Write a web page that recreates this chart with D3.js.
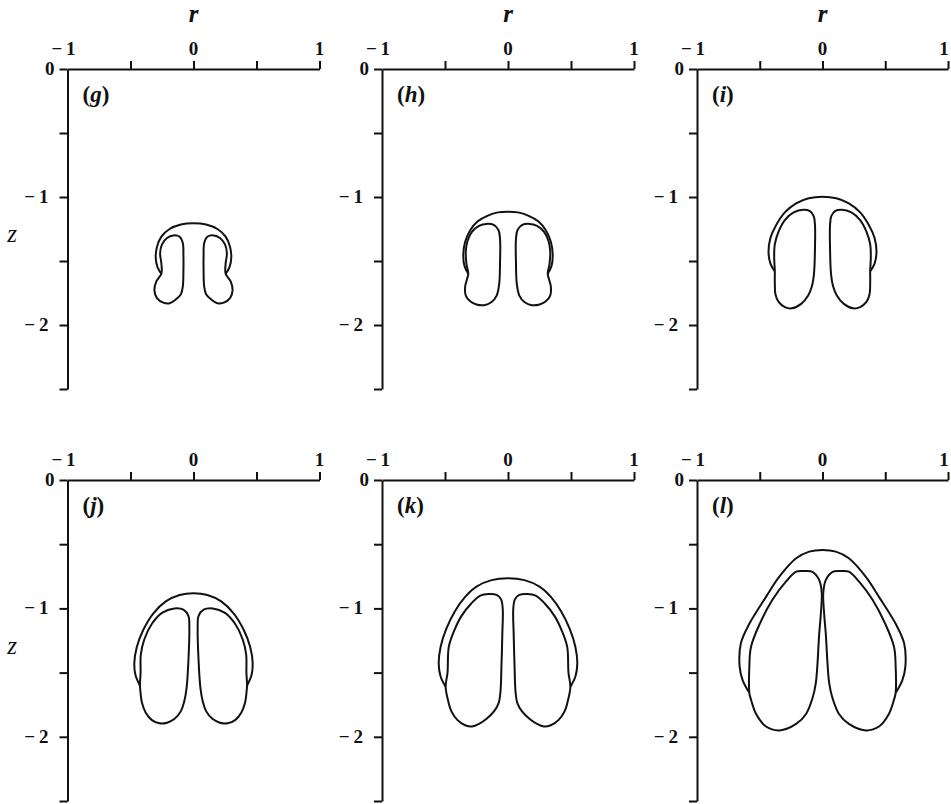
<!DOCTYPE html>
<html>
<head>
<meta charset="utf-8">
<script src="https://cdn.jsdelivr.net/npm/d3@7"></script>
<style>
  body { margin: 0; background: #fff; }
  text { font-family: "Liberation Serif", "DejaVu Serif", serif; fill: #111; }
</style>
</head>
<body>
<svg id="chart" width="951" height="804"></svg>
<script>
// Axis ticks and labels
const rTicks = [-0.5, 0, 0.5, 1];
const rTickLabels = [-1, 0, 1];
const zTicks = [0, -0.5, -1, -1.5, -2, -2.5];
const zTickLabels = [0, -1, -2];
const panelLabels = ["g", "h", "i", "j", "k", "l"];

// Left-hand vortex lobe of each panel, closed loop of (r, z); the right one is its mirror image
const lobeG = [[-0.16,-1.30],[-0.11,-1.31],[-0.085,-1.36],[-0.08,-1.46],[-0.08,-1.58],[-0.085,-1.70],[-0.10,-1.76],[-0.14,-1.80],[-0.19,-1.83],[-0.24,-1.825],[-0.29,-1.79],[-0.31,-1.73],[-0.295,-1.66],[-0.255,-1.60],[-0.255,-1.52],[-0.265,-1.44],[-0.25,-1.37],[-0.21,-1.32]];
const lobeH = [[-0.17,-1.21],[-0.11,-1.22],[-0.075,-1.26],[-0.063,-1.33],[-0.063,-1.50],[-0.07,-1.68],[-0.09,-1.77],[-0.13,-1.82],[-0.19,-1.845],[-0.25,-1.84],[-0.30,-1.815],[-0.335,-1.77],[-0.34,-1.70],[-0.325,-1.64],[-0.315,-1.60],[-0.33,-1.52],[-0.335,-1.42],[-0.32,-1.34],[-0.285,-1.27],[-0.23,-1.225]];
const lobeI = [[-0.153,-1.10],[-0.10,-1.11],[-0.07,-1.15],[-0.06,-1.22],[-0.06,-1.40],[-0.068,-1.60],[-0.085,-1.70],[-0.114,-1.77],[-0.17,-1.835],[-0.245,-1.87],[-0.30,-1.86],[-0.35,-1.82],[-0.375,-1.76],[-0.38,-1.67],[-0.38,-1.58],[-0.385,-1.47],[-0.38,-1.37],[-0.35,-1.27],[-0.30,-1.18],[-0.23,-1.12]];
const lobeJ = [[-0.153,-1.00],[-0.08,-1.01],[-0.04,-1.06],[-0.033,-1.15],[-0.04,-1.40],[-0.055,-1.62],[-0.075,-1.73],[-0.10,-1.80],[-0.15,-1.86],[-0.21,-1.89],[-0.27,-1.895],[-0.33,-1.87],[-0.38,-1.81],[-0.41,-1.73],[-0.42,-1.66],[-0.425,-1.60],[-0.42,-1.50],[-0.418,-1.36],[-0.39,-1.24],[-0.33,-1.12],[-0.25,-1.035]];
const lobeK = [[-0.153,-0.888],[-0.09,-0.895],[-0.055,-0.93],[-0.042,-1.00],[-0.045,-1.20],[-0.052,-1.45],[-0.06,-1.65],[-0.075,-1.74],[-0.11,-1.80],[-0.17,-1.86],[-0.23,-1.90],[-0.285,-1.92],[-0.34,-1.91],[-0.40,-1.87],[-0.45,-1.80],[-0.475,-1.72],[-0.495,-1.61],[-0.48,-1.50],[-0.47,-1.30],[-0.43,-1.18],[-0.37,-1.06],[-0.29,-0.96],[-0.22,-0.90]];
const lobeL = [[-0.146,-0.709],[-0.08,-0.715],[-0.026,-0.78],[-0.006,-0.88],[-0.013,-1.04],[-0.026,-1.195],[-0.053,-1.58],[-0.08,-1.70],[-0.13,-1.82],[-0.21,-1.90],[-0.344,-1.95],[-0.45,-1.92],[-0.53,-1.82],[-0.57,-1.71],[-0.583,-1.657],[-0.583,-1.455],[-0.57,-1.30],[-0.50,-1.12],[-0.40,-0.935],[-0.29,-0.79],[-0.21,-0.714]];

// Left half of the outer bubble boundary, from where it meets the lobe up to the axis r = 0
const capG = [[-0.255,-1.60],[-0.285,-1.55],[-0.30,-1.47],[-0.29,-1.39],[-0.255,-1.31],[-0.19,-1.25],[-0.10,-1.215],[0,-1.205]];
const capH = [[-0.315,-1.60],[-0.345,-1.54],[-0.355,-1.45],[-0.34,-1.35],[-0.30,-1.26],[-0.24,-1.19],[-0.16,-1.145],[-0.08,-1.12],[0,-1.115]];
const capI = [[-0.38,-1.58],[-0.415,-1.52],[-0.43,-1.43],[-0.415,-1.32],[-0.37,-1.22],[-0.30,-1.12],[-0.21,-1.05],[-0.11,-1.01],[0,-0.998]];
const capJ = [[-0.425,-1.60],[-0.46,-1.52],[-0.47,-1.43],[-0.45,-1.30],[-0.40,-1.17],[-0.32,-1.04],[-0.22,-0.945],[-0.11,-0.895],[0,-0.882]];
const capK = [[-0.495,-1.61],[-0.535,-1.53],[-0.55,-1.43],[-0.535,-1.30],[-0.49,-1.16],[-0.42,-1.02],[-0.34,-0.91],[-0.25,-0.83],[-0.13,-0.78],[0,-0.766]];
const capL = [[-0.583,-1.657],[-0.636,-1.56],[-0.66,-1.455],[-0.65,-1.27],[-0.583,-1.12],[-0.45,-0.91],[-0.344,-0.753],[-0.21,-0.61],[-0.106,-0.558],[0,-0.545]];

const lobes = [lobeG, lobeH, lobeI, lobeJ, lobeK, lobeL];
const caps = [capG, capH, capI, capJ, capK, capL];

// Panel frames: column x-extents and row y-extents
const W = 951;
const colX = [[67.5, 319.5], [382, 634], [697, 948]];
const rowY = [[69, 389], [480, 801]];

const svg = d3.select("#chart");
const fmt = d => d < 0 ? "\u2212\u2009" + Math.abs(d) : String(d);
const mirror = pts => pts.map(([r, z]) => [-r, z]);

panelLabels.forEach((lab, i) => {
  const col = i % 3, row = Math.floor(i / 3);
  const x = d3.scaleLinear().domain([-1, 1]).range(colX[col]);
  const y = d3.scaleLinear().domain([0, -2.5]).range(rowY[row]);
  const g = svg.append("g");

  // r axis along the top edge, ticks pointing up
  const ax = g.append("g").attr("transform", `translate(0,${y(0)})`)
    .call(d3.axisTop(x).tickValues(rTicks).tickSize(8).tickSizeOuter(0).tickFormat(""));
  // z axis down the left edge, ticks pointing left
  const ay = g.append("g").attr("transform", `translate(${x(-1)},0)`)
    .call(d3.axisLeft(y).tickValues(zTicks).tickSize(8).tickSizeOuter(0).tickFormat(""));
  [ax, ay].forEach(a => {
    a.selectAll("path, line").attr("stroke", "#111").attr("stroke-width", 2);
  });

  // r tick labels; the rightmost one is kept inside the page edge
  g.selectAll(".rl").data(rTickLabels).join("text")
    .attr("x", d => d === -1 ? x(d) - 4 : Math.min(x(d), W - 7))
    .attr("y", y(0) - 14)
    .attr("text-anchor", "middle")
    .attr("font-size", 19).attr("font-weight", "bold")
    .text(fmt);

  g.selectAll(".zl").data(zTickLabels).join("text")
    .attr("x", d => x(-1) - (d === 0 ? 13 : 19))
    .attr("y", d => y(d) + 6)
    .attr("text-anchor", "end")
    .attr("font-size", 19).attr("font-weight", "bold")
    .text(fmt);

  // panel tag, e.g. (g)
  const t = g.append("text")
    .attr("x", x(-1) + 15).attr("y", y(0) + 33)
    .attr("font-size", 23).attr("font-weight", "bold");
  t.append("tspan").text("(");
  t.append("tspan").attr("font-style", "italic").text(lab);
  t.append("tspan").text(")");

  if (row === 0) {
    g.append("text").attr("x", x(0)).attr("y", 22)
      .attr("text-anchor", "middle").attr("font-size", 25)
      .attr("font-style", "italic").attr("font-weight", "bold").text("r");
  }
  if (col === 0) {
    g.append("text").attr("x", 12).attr("y", y(-1.3) + 7)
      .attr("text-anchor", "middle").attr("font-size", 25)
      .attr("font-style", "italic").text("z");
  }

  // outer boundary: left half, then its mirror back down the right side
  const cap = caps[i];
  const capFull = cap.concat(mirror(cap.slice(0, -1)).reverse());
  const open = d3.line().x(d => x(d[0])).y(d => y(d[1])).curve(d3.curveCatmullRom.alpha(0.5));
  const closed = d3.line().x(d => x(d[0])).y(d => y(d[1])).curve(d3.curveCatmullRomClosed.alpha(0.5));

  g.append("path").attr("d", open(capFull))
    .attr("fill", "none").attr("stroke", "#111").attr("stroke-width", 2);
  [lobes[i], mirror(lobes[i])].forEach(lobe => {
    g.append("path").attr("d", closed(lobe))
      .attr("fill", "none").attr("stroke", "#111").attr("stroke-width", 2)
      .attr("stroke-linejoin", "round");
  });
});
</script>
</body>
</html>
